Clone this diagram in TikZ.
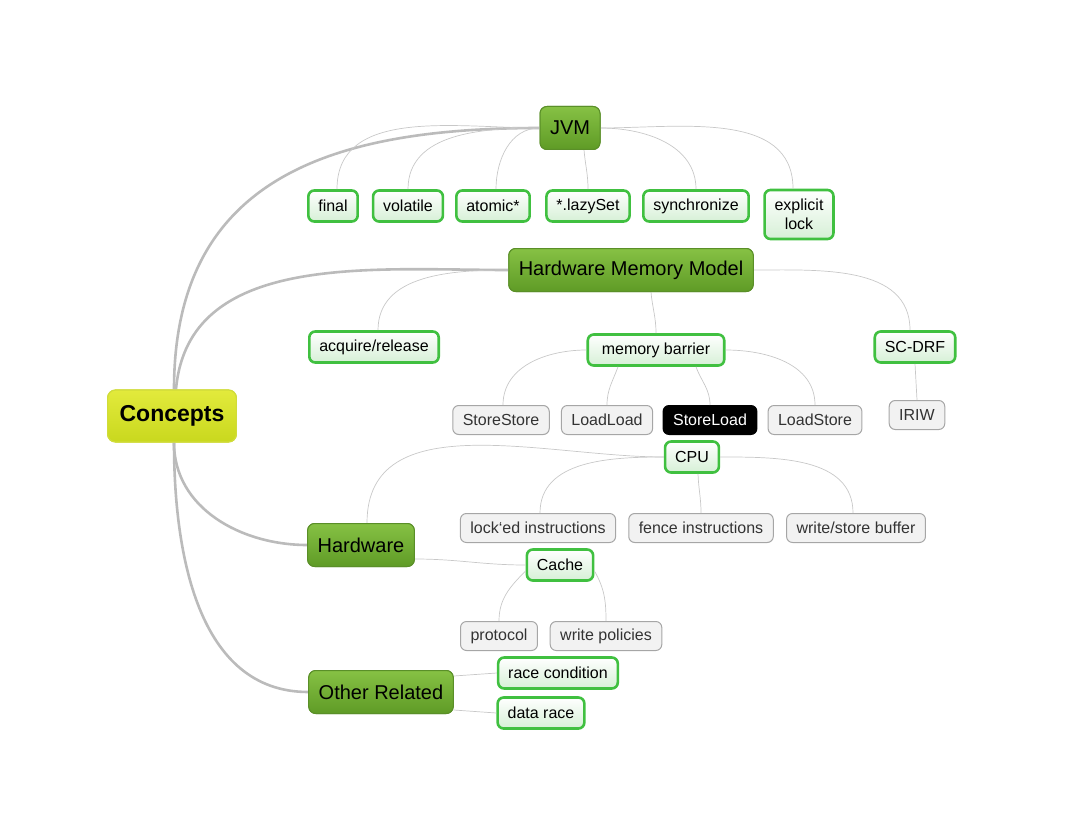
\documentclass[tikz,border=0pt]{standalone}
\usepackage{fontspec}
\setmainfont{Liberation Sans}
\usepackage{tikz}
\definecolor{concclair}{HTML}{E2EA3C}
\definecolor{concfonce}{HTML}{C9D81E}
\definecolor{concbord}{HTML}{D0DC3A}
\definecolor{brclair}{HTML}{86C144}
\definecolor{brfonce}{HTML}{5F9B26}
\definecolor{brbord}{HTML}{5A8F28}
\definecolor{vert}{HTML}{40C040}
\definecolor{vertpale}{HTML}{D6F0D6}
\definecolor{gristrait}{HTML}{C8C8C8}
\definecolor{grisepais}{HTML}{BBBBBB}
\tikzstyle{racine} = [rectangle, rounded corners=8pt, draw=concbord, line width=1.2pt, top color=concclair, bottom color=concfonce, minimum height=52pt, inner xsep=12pt, font=\fontsize{23}{26}\selectfont\bfseries]
\tikzstyle{branche} = [rectangle, rounded corners=7pt, draw=brbord, line width=1pt, top color=brclair, bottom color=brfonce, minimum height=43pt, inner xsep=10pt, font=\fontsize{20}{23}\selectfont]
\tikzstyle{feuille} = [rectangle, rounded corners=6pt, draw=vert, line width=2.6pt, top color=white, bottom color=vertpale, minimum height=31pt, inner xsep=10pt, font=\fontsize{16}{19}\selectfont]
\tikzstyle{grise} = [rectangle, rounded corners=6pt, draw=black!35, line width=1pt, fill=black!5, text=black!80, minimum height=29pt, inner xsep=10pt, font=\fontsize{16}{19}\selectfont]
\tikzstyle{noire} = [grise, draw=black, fill=black, text=white]
\tikzstyle{fil} = [draw=gristrait, line width=0.7pt]
\tikzstyle{gros} = [draw=grisepais, line width=2.6pt]

\begin{document}
\begin{tikzpicture}[x=1pt, y=-1pt]
    \useasboundingbox (0,0) rectangle (1070,837);

    % racine
    \node [racine] (concepts) at (172,416) {Concepts};

    % branches
    \node [branche] (jvm) at (570,128) {JVM};
    \node [branche] (hmm) at (631,270) {Hardware Memory Model};
    \node [branche] (hardware) at (361,545) {Hardware};
    \node [branche] (autres) at (381,692) {Other Related};

    % JVM
    \node [feuille] (final) at (333,206) {final};
    \node [feuille] (volatile) at (408,206) {volatile};
    \node [feuille] (atomic) at (493,206) {atomic*};
    \node [feuille] (lazyset) at (588,206) {*.lazySet};
    \node [feuille] (synchro) at (696,206) {synchronize};
    \node [feuille, align=center, minimum height=49pt] (lock) at (799,214.5) {explicit\\lock};

    % modele memoire
    \node [feuille] (acquire) at (374,347) {acquire/release};
    \node [feuille, inner xsep=14pt] (barrier) at (656,350) {memory barrier};
    \node [feuille] (scdrf) at (915,347) {SC-DRF};
    \node [grise] (storestore) at (501,420) {StoreStore};
    \node [grise] (loadload) at (607,420) {LoadLoad};
    \node [noire] (storeload) at (710,420) {StoreLoad};
    \node [grise] (loadstore) at (815,420) {LoadStore};
    \node [grise] (iriw) at (917,415) {IRIW};

    % materiel
    \node [feuille] (cpu) at (692,457) {CPU};
    \node [grise] (locked) at (538,528) {lock‘ed instructions};
    \node [grise] (fence) at (701,528) {fence instructions};
    \node [grise] (buffer) at (856,528) {write/store buffer};
    \node [feuille] (cache) at (560,565) {Cache};
    \node [grise] (protocol) at (499,636) {protocol};
    \node [grise] (policies) at (606,636) {write policies};

    % autres
    \node [feuille] (racecond) at (558,673) {race condition};
    \node [feuille] (datarace) at (541,713) {data race};

    % liens racine
    \draw [gros] ([xshift=2pt]concepts.north) to[out=90, in=180, looseness=1.2] (jvm.west);
    \draw [gros] ([xshift=4pt]concepts.north) to[out=85, in=180] (hmm.west);
    \draw [gros] ([xshift=2pt]concepts.south) to[out=-90, in=180] (hardware.west);
    \draw [gros] ([xshift=2pt]concepts.south) to[out=-90, in=180] (autres.west);

    % liens JVM
    \draw [fil] (jvm.west) to[out=180, in=90] ([xshift=4pt]final.north);
    \draw [fil] (jvm.west) to[out=180, in=90] (volatile.north);
    \draw [fil] (jvm.west) to[out=180, in=90] ([xshift=3pt]atomic.north);
    \draw [fil] ([xshift=14pt]jvm.south) to[out=-85, in=90] (lazyset.north);
    \draw [fil] (jvm.east) to[out=0, in=90] (synchro.north);
    \draw [fil] (jvm.east) to[out=0, in=90] ([xshift=-6pt]lock.north);

    % liens modele memoire
    \draw [fil] (hmm.west) to[out=180, in=90] ([xshift=4pt]acquire.north);
    \draw [fil] ([xshift=20pt]hmm.south) to[out=-85, in=90] (barrier.north);
    \draw [fil] (hmm.east) to[out=0, in=90] ([xshift=-5pt]scdrf.north);
    \draw [fil] (barrier.west) to[out=180, in=90] ([xshift=2pt]storestore.north);
    \draw [fil] ([xshift=-38pt]barrier.south) to[out=-110, in=90] (loadload.north);
    \draw [fil] ([xshift=40pt]barrier.south) to[out=-70, in=90] (storeload.north);
    \draw [fil] (barrier.east) to[out=0, in=90] (loadstore.north);
    \draw [fil] (scdrf.south) -- (iriw.north);

    % liens materiel
    \draw [fil] (cpu.west) to[out=180, in=90] ([xshift=6pt]hardware.north);
    \draw [fil] (cpu.west) to[out=180, in=90] ([xshift=2pt]locked.north);
    \draw [fil] ([xshift=6pt]cpu.south) to[out=-88, in=90] (fence.north);
    \draw [fil] (cpu.east) to[out=0, in=90] ([xshift=-3pt]buffer.north);
    \draw [fil] ([yshift=-14pt]hardware.east) to[out=0, in=180] (cache.west);
    \draw [fil] ([yshift=-6pt]cache.west) to[out=-135, in=90] (protocol.north);
    \draw [fil] ([yshift=-6pt]cache.east) to[out=-60, in=90] (policies.north);

    % liens autres
    \draw [fil] ([yshift=16pt]autres.east) -- (racecond.west);
    \draw [fil] ([yshift=-18pt]autres.east) -- (datarace.west);

    % noeuds par-dessus les liens
    \node [racine] at (concepts) {Concepts};
    \node [branche] at (jvm) {JVM};
    \node [branche] at (hmm) {Hardware Memory Model};
    \node [branche] at (hardware) {Hardware};
    \node [branche] at (autres) {Other Related};
\end{tikzpicture}
\end{document}
